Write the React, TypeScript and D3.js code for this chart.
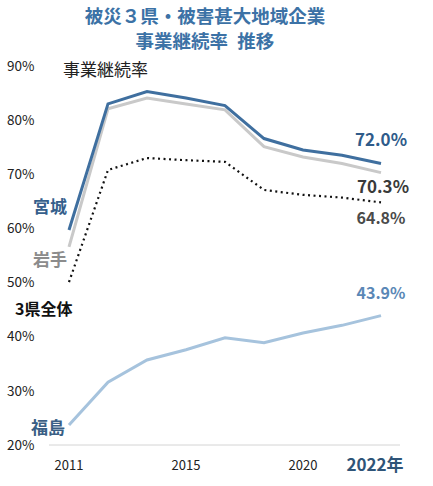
import React from 'react';
import * as d3 from 'd3';

// survey years (9 points on a categorical axis)
const years = ['2011', '2012', '2013', '2015', '2016', '2018', '2020', '2021', '2022'];
const tickYears = ['2011', '2015', '2020'];

const miyagi = [59.7, 83.0, 85.3, 84.1, 82.7, 76.6, 74.5, 73.5, 72.0];
const iwate = [56.6, 82.1, 84.1, 83.0, 81.9, 75.1, 73.2, 72.0, 70.3];
const total = [50.1, 70.8, 73.0, 72.6, 72.3, 67.1, 66.2, 65.7, 64.8];
const fukushima = [23.7, 31.6, 35.7, 37.6, 39.8, 38.9, 40.7, 42.1, 43.9];

const yTicks = [20, 30, 40, 50, 60, 70, 80, 90];

const FONT = '"Noto Sans CJK JP", "Noto Sans", sans-serif';

const W = 433;
const H = 486;

const App: React.FC = () => {
  const x = d3.scalePoint<string>().domain(years).range([69, 381]);
  const y = d3.scaleLinear().domain([20, 90]).range([445, 66]);

  const line = d3
    .line<number>()
    .x((_, i) => x(years[i]) as number)
    .y(d => y(d));

  const lastX = x(years[years.length - 1]) as number;

  return (
    <svg
      width={W}
      height={H}
      style={{ position: 'absolute', left: 0, top: 0, background: '#fff' }}
      fontFamily={FONT}
    >
      {/* title */}
      <text x={205} y={23} textAnchor="middle" fontSize={18.5} fontWeight="bold" fill="#3c72a6">
        被災３県・被害甚大地域企業
      </text>
      <text x={205} y={48} textAnchor="middle" fontSize={18.5} fontWeight="bold" fill="#3c72a6">
        {'事業継続率\u2002推移'}
      </text>

      <text x={63} y={76} fontSize={17} fill="#222">
        事業継続率
      </text>

      {/* y ticks */}
      {yTicks.map(t => (
        <text key={t} x={7} y={y(t)} dy="0.35em" fontSize={13.5} fill="#222">
          {t}%
        </text>
      ))}

      {/* x axis */}
      <line x1={49} x2={400} y1={y(20)} y2={y(20)} stroke="#d4d4d4" strokeWidth={1} />
      {tickYears.map(t => (
        <text key={t} x={x(t)} y={465} dy="0.35em" textAnchor="middle" fontSize={13} fill="#222">
          {t}
        </text>
      ))}
      <text x={lastX - 6} y={465} dy="0.35em" textAnchor="middle" fontSize={17} fontWeight="bold" fill="#2f5478">
        2022年
      </text>

      {/* lines */}
      <path d={line(iwate) || ''} fill="none" stroke="#c9c9c9" strokeWidth={3} />
      <path d={line(miyagi) || ''} fill="none" stroke="#3f6f9f" strokeWidth={3} />
      <path
        d={line(total) || ''}
        fill="none"
        stroke="#111"
        strokeWidth={2.2}
        strokeDasharray="2 3.5"
      />
      <path d={line(fukushima) || ''} fill="none" stroke="#a6c3dd" strokeWidth={3} />

      {/* series labels */}
      <text x={33} y={207} dy="0.35em" fontSize={17} fontWeight="bold" fill="#355f8c">
        宮城
      </text>
      <text x={33} y={260} dy="0.35em" fontSize={17} fontWeight="bold" fill="#8c8c8c">
        岩手
      </text>
      <text x={15} y={309} dy="0.35em" fontSize={16} fontWeight="bold" fill="#111">
        3県全体
      </text>
      <text x={31} y={428} dy="0.35em" fontSize={17} fontWeight="bold" fill="#3a5f85">
        福島
      </text>

      {/* end values */}
      <text x={381} y={140} dy="0.35em" textAnchor="middle" fontSize={17} fontWeight="bold" fill="#2f5b8a">
        {miyagi[miyagi.length - 1].toFixed(1)}%
      </text>
      <text x={383} y={187} dy="0.35em" textAnchor="middle" fontSize={17} fontWeight="bold" fill="#3a3a3a">
        {iwate[iwate.length - 1].toFixed(1)}%
      </text>
      <text x={381} y={218} dy="0.35em" textAnchor="middle" fontSize={16} fontWeight="bold" fill="#4a4a4a">
        {total[total.length - 1].toFixed(1)}%
      </text>
      <text x={381} y={293} dy="0.35em" textAnchor="middle" fontSize={16} fontWeight="bold" fill="#5a87b6">
        {fukushima[fukushima.length - 1].toFixed(1)}%
      </text>
    </svg>
  );
};

export default App;
